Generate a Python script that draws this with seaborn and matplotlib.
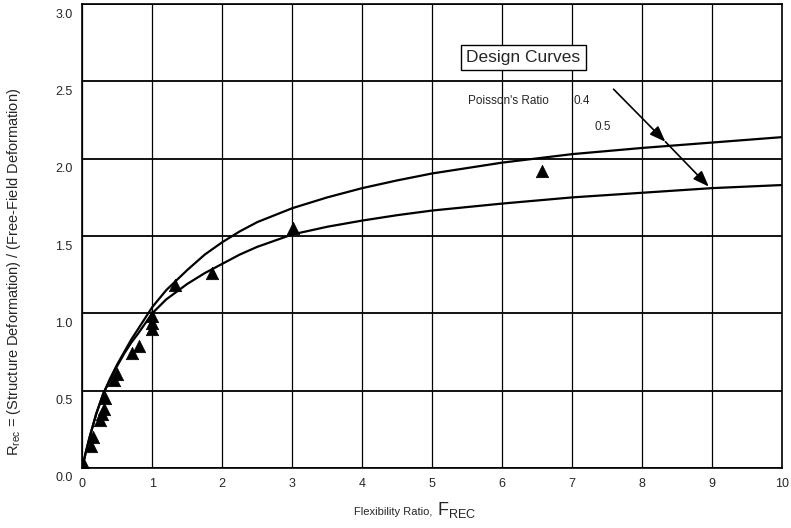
import matplotlib
matplotlib.use("Agg")
import matplotlib.pyplot as plt
import matplotlib.transforms as mtransforms
import pandas as pd
import seaborn as sns

# ── data ─────────────────────────────────────────────────────────────────────
curve_x = [0, 0.05, 0.1, 0.2, 0.3, 0.4, 0.5, 0.6, 0.7, 0.8, 1.0, 1.2, 1.5,
           1.75, 2.0, 2.25, 2.5, 3.0, 3.5, 4.0, 4.5, 5.0, 6.0, 7.0, 8.0, 9.0, 10.0]
curve_04 = [0, 0.10, 0.19, 0.35, 0.48, 0.58, 0.67, 0.75, 0.83, 0.90, 1.04, 1.15, 1.28,
            1.38, 1.46, 1.53, 1.59, 1.68, 1.75, 1.81, 1.86, 1.905, 1.975, 2.03, 2.07, 2.105, 2.14]
curve_05 = [0, 0.10, 0.19, 0.35, 0.48, 0.57, 0.66, 0.74, 0.81, 0.87, 1.00, 1.09, 1.19,
            1.26, 1.32, 1.38, 1.43, 1.51, 1.56, 1.60, 1.635, 1.665, 1.71, 1.75, 1.78, 1.81, 1.83]

obs_x = [0.03, 0.12, 0.16, 0.25, 0.28, 0.31, 0.33, 0.46, 0.49, 0.71, 0.81,
         1.0, 1.0, 1.0, 1.33, 1.86, 3.01, 6.57]
obs_y = [0.02, 0.14, 0.20, 0.31, 0.35, 0.38, 0.45, 0.57, 0.61, 0.74, 0.79,
         0.90, 0.94, 0.98, 1.18, 1.26, 1.55, 1.92]

x_ticks = list(range(0, 11))
y_ticks = [0.0, 0.5, 1.0, 1.5, 2.0, 2.5, 3.0]

sns.set_theme(style="white")
plt.rcParams["font.family"] = ["Liberation Sans", "DejaVu Sans"]
plt.rcParams["mathtext.fontset"] = "custom"
plt.rcParams["mathtext.rm"] = "Liberation Sans"
plt.rcParams["mathtext.it"] = "Liberation Sans"

curves = pd.DataFrame({
    "x": curve_x * 2,
    "y": curve_04 + curve_05,
    "nu": ["0.4"] * len(curve_x) + ["0.5"] * len(curve_x),
})
obs = pd.DataFrame({"x": obs_x, "y": obs_y})

fig = plt.figure(figsize=(7.91, 5.28), dpi=100)
ax = fig.add_axes([0.104, 0.114, 0.885, 0.878])

# grid
for xv in x_ticks:
    ax.axvline(xv, color="black", lw=0.9, zorder=1)
for yv in y_ticks:
    ax.axhline(yv, color="black", lw=1.3, zorder=1)

sns.lineplot(data=curves, x="x", y="y", units="nu", estimator=None,
             color="black", lw=1.6, ax=ax, zorder=3)
sns.scatterplot(data=obs, x="x", y="y", marker="^", s=80, color="black",
                edgecolor="black", linewidth=0.5, ax=ax, zorder=4)

ax.set_xlim(0, 10)
ax.set_ylim(0, 3.0)
ax.set_xticks(x_ticks)
ax.set_yticks(y_ticks)
ax.set_xticklabels([str(v) for v in x_ticks], fontsize=9)
ax.set_yticklabels([f"{v:.1f}" for v in y_ticks], fontsize=9)
ax.tick_params(length=0, pad=7)
for lab in ax.get_yticklabels():
    lab.set_transform(lab.get_transform() +
                      mtransforms.ScaledTranslation(0, -9 / 100, fig.dpi_scale_trans))
for sp in ax.spines.values():
    sp.set_color("black")
    sp.set_linewidth(1.2)
ax.set_xlabel("")
ax.set_ylabel("")

# annotations
ax.text(6.3, 2.655, "Design Curves", fontsize=12.5, ha="center", va="center",
        bbox=dict(boxstyle="square,pad=0.3", facecolor="white", edgecolor="black", lw=1),
        zorder=5)
ax.text(5.51, 2.374, "Poisson's Ratio", fontsize=8.5, ha="left", va="center", zorder=5)
ax.text(7.02, 2.374, "0.4", fontsize=8.5, ha="left", va="center", zorder=5)
ax.text(7.32, 2.206, "0.5", fontsize=8.5, ha="left", va="center", zorder=5)
arrow = dict(arrowstyle="-|>,head_length=0.8,head_width=0.3", color="black", lw=1.2,
             shrinkA=0, shrinkB=0)
ax.annotate("", xy=(8.33, 2.11), xytext=(7.59, 2.45), arrowprops=arrow, zorder=5)
ax.annotate("", xy=(8.95, 1.82), xytext=(8.33, 2.11), arrowprops=arrow, zorder=5)

# axis labels
fig.text(0.546, 0.025, "Flexibility Ratio,", fontsize=8, ha="right", va="baseline")
fig.text(0.552, 0.025, r"$\mathregular{F_{REC}}$", fontsize=13, ha="left", va="baseline")
fig.text(0.018, 0.485,
         r"$\mathregular{R_{rec}}$ = (Structure Deformation) / (Free-Field Deformation)",
         fontsize=10.5, rotation=90, ha="center", va="center")

fig.savefig("out.png", dpi=100)
